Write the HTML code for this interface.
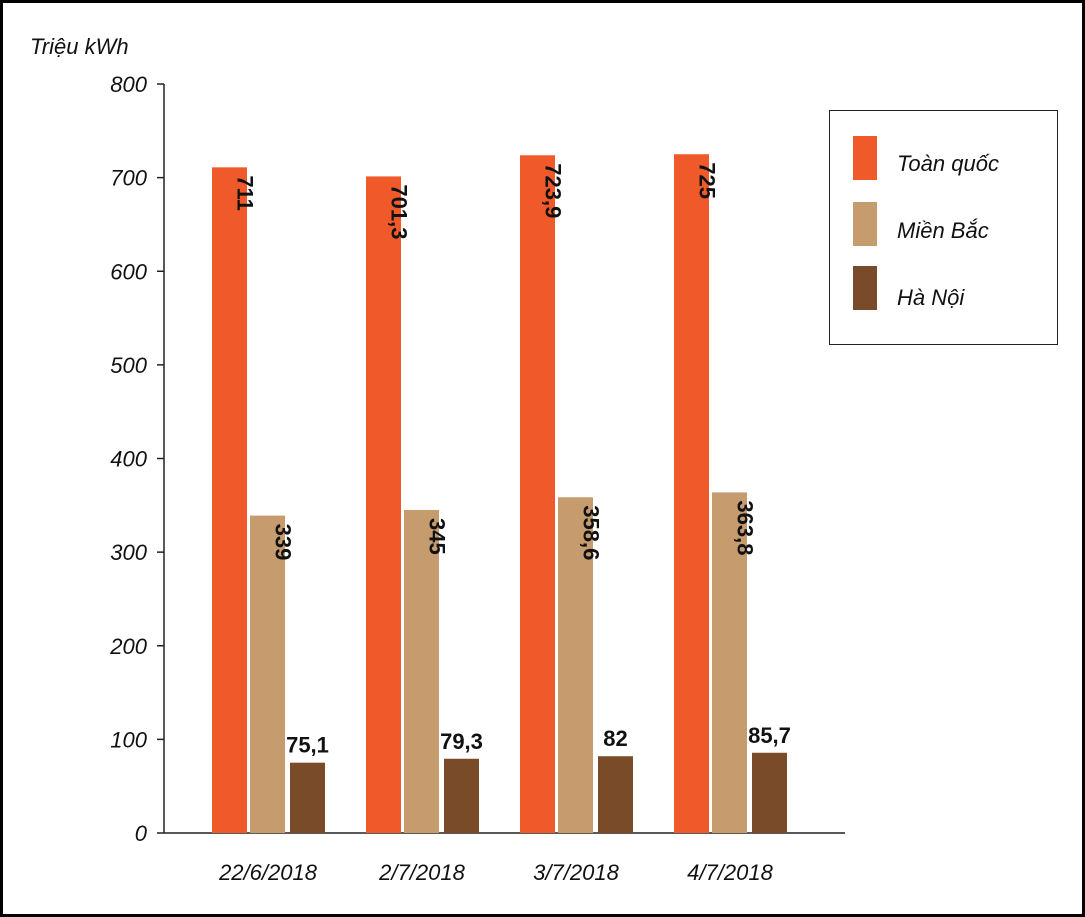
<!DOCTYPE html>
<html><head><meta charset="utf-8"><style>
html,body{margin:0;padding:0;background:#fff}
svg{display:block}
text{font-family:"Liberation Sans",sans-serif}
</style></head><body>
<svg id="chart" width="1085" height="917" viewBox="0 0 1085 917">
<rect x="1.5" y="1.5" width="1082" height="914" fill="#fff" stroke="#000" stroke-width="3"/>
<text x="30" y="54" font-size="22" font-style="italic" fill="#111">Triệu kWh</text>
<g id="axes"></g>
<g id="bars"></g>
<g>
<rect x="829.5" y="110.5" width="228" height="234" fill="#fff" stroke="#222" stroke-width="1"/>
<rect x="853" y="136" width="24" height="44" fill="#f05a2b"/>
<text x="897" y="171" font-size="22" font-style="italic" fill="#111">Toàn quốc</text>
<rect x="853" y="202" width="24" height="44" fill="#c69b6d"/>
<text x="897" y="238" font-size="22" font-style="italic" fill="#111">Miền Bắc</text>
<rect x="853" y="266" width="24" height="44" fill="#7a4b29"/>
<text x="897" y="305" font-size="22" font-style="italic" fill="#111">Hà Nội</text>
</g>
</svg>
<script>
const categories=["22/6/2018","2/7/2018","3/7/2018","4/7/2018"];
const toanQuoc=[711,701.3,723.9,725];
const mienBac=[339,345,358.6,363.8];
const haNoi=[75.1,79.3,82,85.7];
const yTicks=[0,100,200,300,400,500,600,700,800];
const NS="http://www.w3.org/2000/svg";
const y0=833,yTop=84,yMax=800;
function y(v){return y0-(v/yMax)*(y0-yTop);}
function gx(i){return 212+i*154;}
function fmt(v){return String(v).replace('.',',');}
const axes=document.getElementById('axes'),bars=document.getElementById('bars');
function mk(tag,attrs,parent){const e=document.createElementNS(NS,tag);for(const k in attrs)e.setAttribute(k,attrs[k]);parent.appendChild(e);return e;}
let yl=mk('line',{x1:164,y1:yTop,x2:164,y2:y0,stroke:'#222','stroke-width':1.5},axes);


let xl=mk('line',{x1:164,y1:y0,x2:845,y2:y0,stroke:'#222','stroke-width':1.5},axes);


yTicks.forEach(t=>{
  let tk=mk('line',{x1:157,y1:y(t),x2:164,y2:y(t),stroke:'#222','stroke-width':1.5},axes);
  
  
  let tl=mk('text',{x:147,y:y(t)+8,'text-anchor':'end','font-size':22,'font-style':'italic',fill:'#111'},axes);
  tl.textContent=t;
  
  
});
const series=[[toanQuoc,'#f05a2b',0,'toan-quoc'],[mienBac,'#c69b6d',38,'mien-bac'],[haNoi,'#7a4b29',78,'ha-noi']];
categories.forEach((c,i)=>{
  let cl=mk('text',{x:gx(i)+56,y:880,'text-anchor':'middle','font-size':22,'font-style':'italic',fill:'#111'},axes);
  cl.textContent=c;
  
  
  series.forEach(([arr,col,off,nm],s)=>{
    const v=arr[i],x=gx(i)+off,w=35;
    let r=mk('rect',{x:x,y:y(v),width:w,height:y0-y(v),fill:col},bars);
    
    
    let t;
    if(s<2){
      const cx=x+w/2,cy=y(v)+8;
      t=mk('text',{x:cx+8,y:cy,'font-size':22,'font-weight':'bold',fill:'#111',transform:`rotate(90 ${cx+8} ${cy})`},bars);
    }else{
      t=mk('text',{x:x+w/2,y:y(v)-10,'text-anchor':'middle','font-size':22,'font-weight':'bold',fill:'#111'},bars);
    }
    t.textContent=fmt(v);
    
    
  });
});
</script>
</body></html>
